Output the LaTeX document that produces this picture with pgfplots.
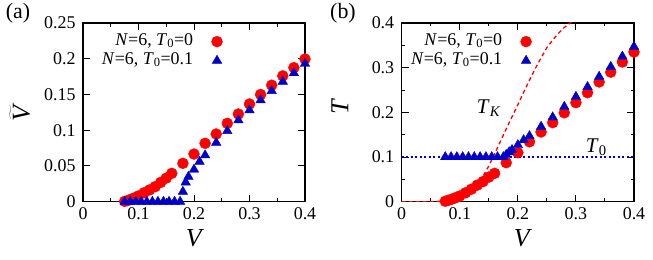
\documentclass[border=0pt]{standalone}
\usepackage{pgfplots}
\pgfplotsset{compat=1.18}
\usepackage{fontspec}
\setmainfont{Liberation Serif}
\definecolor{pr}{RGB}{255,0,0}
\definecolor{pb}{RGB}{0,0,200}
\pgfplotsset{
  panel/.style={
    scale only axis,
    height=178.7bp,
    axis line style={line width=1.1pt},
    tick style={line width=1.0pt, black},
    tick align=inside,
    major tick length=7bp,
    minor tick length=3.5bp,
    font=\fontsize{18}{20}\selectfont,
    /pgf/number format/assume math mode=true,
    scaled ticks=false,
    xmin=0, xmax=0.4,
    xtick={0,0.1,0.2,0.3,0.4},
    xticklabels={0,0.1,0.2,0.3,0.4},
    minor x tick num=1,
    xticklabel style={yshift=-2bp},
    yticklabel style={xshift=-4bp},
    clip marker paths=false,
    legend plot pos=right,
    legend cell align=right,
    legend style={draw=none, fill=none, font=\fontsize{18}{18}\selectfont, anchor=north west, row sep=0bp, inner sep=0pt,
      nodes={inner sep=1bp, text height=12bp, text depth=5bp}},
  },
  rc/.style={only marks, mark=*, color=pr, mark size=5.5pt,
    legend image code/.code={\draw[##1] plot coordinates {(0.8cm,0cm)};\path (0cm,0cm) (1.05cm,0cm);}},
  bt/.style={only marks, mark=triangle*, color=pb, mark size=5.5pt,
    legend image code/.code={\draw[##1] plot coordinates {(0.8cm,0cm)};\path (0cm,0cm) (1.05cm,0cm);}},
}
\begin{document}
\begin{tikzpicture}
\path[use as bounding box] (0,0) rectangle (653bp,260bp);
\node[font=\fontsize{22}{22}\selectfont] at (18bp,247bp) {(a)};
\node[font=\fontsize{22}{22}\selectfont] at (343bp,247bp) {(b)};
% ---------------- panel (a)
\begin{axis}[panel,
  at={(83bp,58.3bp)}, anchor=south west,
  width=222bp,
  ymin=0, ymax=0.25,
  ytick={0,0.05,0.1,0.15,0.2,0.25},
  yticklabels={0,0.05,0.1,0.15,0.2,0.25},
  xlabel={\textit{V}},
  xlabel style={at={(axis description cs:0.505,-0.205)}, anchor=center, font=\fontsize{26}{26}\selectfont},
  ylabel={$\widetilde{\mbox{\textit{V}}}$},
  ylabel style={at={(axis description cs:-0.284,0.5)}, anchor=center, font=\fontsize{26}{26}\selectfont},
  legend style={at={(axis description cs:0.08,0.95)}},
]
\addplot[rc] coordinates {
(0.075,0.0005)(0.08,0.0015)(0.085,0.003)(0.09,0.0045)(0.095,0.006)(0.1,0.008)
(0.11,0.0125)(0.12,0.0165)(0.13,0.021)(0.14,0.027)(0.15,0.033)(0.16,0.0397)
(0.18,0.0537)(0.2,0.0667)(0.22,0.0817)(0.24,0.0947)(0.26,0.1096)(0.28,0.1227)
(0.3,0.1367)(0.32,0.150)(0.34,0.163)(0.36,0.176)(0.38,0.1875)(0.4,0.1996)
};
\addlegendentry{\textit{N}=6, \textit{T}\textsubscript{0}=0}
\addplot[bt] coordinates {
(0.075,0)(0.085,0)(0.095,0)(0.105,0)(0.115,0)(0.125,0)(0.135,0)(0.145,0)(0.155,0)(0.165,0)(0.175,0)
(0.18,0.014)(0.185,0.027)(0.19,0.035)(0.2,0.045)(0.21,0.056)(0.22,0.065)
(0.24,0.0826)(0.26,0.099)(0.28,0.114)(0.3,0.128)(0.32,0.142)(0.34,0.155)
(0.36,0.168)(0.38,0.180)(0.4,0.193)
};
\addlegendentry{\textit{N}=6, \textit{T}\textsubscript{0}=0.1}
\end{axis}
% ---------------- panel (b)
\begin{axis}[panel,
  at={(401.7bp,58.3bp)}, anchor=south west,
  width=232.3bp,
  ymin=0, ymax=0.4,
  ytick={0,0.1,0.2,0.3,0.4},
  yticklabels={0,0.1,0.2,0.3,0.4},
  minor y tick num=1,
  xlabel={\textit{V}},
  xlabel style={at={(axis description cs:0.522,-0.205)}, anchor=center, font=\fontsize{26}{26}\selectfont},
  ylabel={\textit{T}},
  ylabel style={at={(axis description cs:-0.266,0.535)}, anchor=center, font=\fontsize{26}{26}\selectfont},
  legend style={at={(axis description cs:0.035,0.95)}},
]
\addplot[rc] coordinates {
(0.075,0.001)(0.08,0.003)(0.085,0.005)(0.09,0.0075)(0.095,0.01)(0.1,0.0127)
(0.11,0.020)(0.12,0.028)(0.13,0.037)(0.14,0.045)(0.15,0.055)(0.16,0.0635)
(0.18,0.0873)(0.2,0.1097)(0.22,0.134)(0.24,0.156)(0.26,0.177)(0.28,0.199)
(0.3,0.2216)(0.32,0.244)(0.34,0.268)(0.36,0.290)(0.38,0.3127)(0.4,0.335)
};
\addlegendentry{\textit{N}=6, \textit{T}\textsubscript{0}=0}
\addplot[bt] coordinates {
(0.075,0.1)(0.085,0.1)(0.095,0.1)(0.105,0.1)(0.115,0.1)(0.125,0.1)(0.135,0.1)(0.145,0.1)(0.155,0.1)(0.165,0.1)(0.175,0.1)
(0.18,0.105)(0.185,0.111)(0.19,0.116)(0.2,0.127)(0.21,0.138)(0.22,0.147)
(0.24,0.168)(0.26,0.189)(0.28,0.2126)(0.3,0.235)(0.32,0.257)(0.34,0.280)
(0.36,0.302)(0.38,0.325)(0.4,0.347)
};
\addlegendentry{\textit{N}=6, \textit{T}\textsubscript{0}=0.1}
\addplot[color=pr, line width=1.3pt, dash pattern=on 4bp off 3bp, forget plot] coordinates {
(0,0)(0.04,0)(0.06,0.0005)(0.08,0.003)(0.09,0.006)(0.1,0.011)(0.11,0.018)(0.12,0.027)
(0.13,0.04)(0.14,0.057)(0.15,0.08)(0.16,0.107)(0.17,0.135)(0.18,0.163)(0.19,0.19)
(0.2,0.217)(0.21,0.245)(0.22,0.272)(0.23,0.298)(0.24,0.322)(0.25,0.345)(0.26,0.362)
(0.27,0.377)(0.28,0.39)(0.29,0.40)(0.3,0.41)
};
\addplot[color=pb, line width=1.3pt, dash pattern=on 2bp off 2.5bp, forget plot] coordinates {
(0,0.1)(0.4,0.1)
};
\node[font=\fontsize{21}{21}\selectfont] at (axis cs:0.15,0.21) {\textit{T}\textsubscript{\textit{K}}};
\node[font=\fontsize{21}{21}\selectfont] at (axis cs:0.335,0.122) {\textit{T}\textsubscript{0}};
\end{axis}
\end{tikzpicture}
\end{document}
